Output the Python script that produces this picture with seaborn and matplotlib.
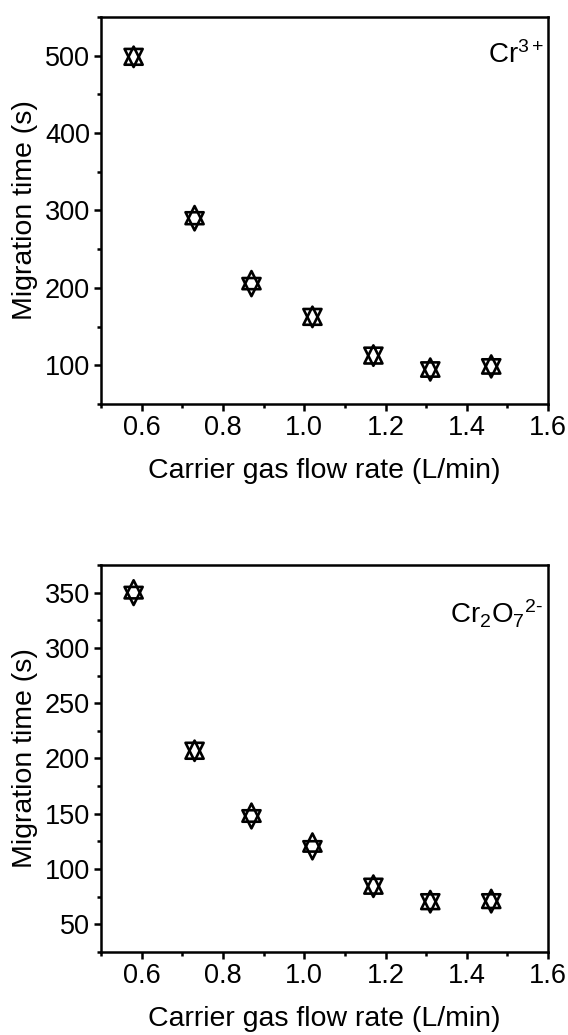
import numpy as np
import pandas as pd
import matplotlib
matplotlib.use("Agg")
import matplotlib.pyplot as plt
from matplotlib.ticker import MultipleLocator
import seaborn as sns

# ---- data ----
flow_rate = [0.58, 0.73, 0.87, 1.02, 1.17, 1.31, 1.46]
cr3_up = [500, 294, 210, 164, 114, 97, 101]
cr3_down = [497, 286, 201, 161, 111, 92, 96]
cr2o7_up = [353, 208, 151, 124, 86, 72, 73]
cr2o7_down = [347, 206, 145, 117, 83, 69, 69]
xticks = [0.6, 0.8, 1.0, 1.2, 1.4, 1.6]
top_yticks = [100, 200, 300, 400, 500]
bot_yticks = [50, 100, 150, 200, 250, 300, 350]
xlabel = "Carrier gas flow rate (L/min)"
ylabel = "Migration time (s)"

sns.set_theme(style="ticks")
plt.rcParams['font.family'] = ['Liberation Sans', 'DejaVu Sans']
plt.rcParams['mathtext.fontset'] = 'custom'
plt.rcParams['mathtext.rm'] = 'Liberation Sans'
plt.rcParams['mathtext.it'] = 'Liberation Sans'
plt.rcParams['mathtext.default'] = 'regular'

fig = plt.figure(figsize=(5.68, 10.35), dpi=100)
ax1 = fig.add_axes([0.178, 0.6097, 0.787, 0.3739])
ax2 = fig.add_axes([0.178, 0.0802, 0.787, 0.3739])

def draw(ax, up, down, ylim, yticks, yminor, label, label_y):
    df = pd.DataFrame({"x": flow_rate, "up": up, "down": down})
    sns.scatterplot(data=df, x="x", y="up", marker="^", s=170,
                    facecolors="none", edgecolor="black", linewidth=1.9, ax=ax, zorder=3)
    sns.scatterplot(data=df, x="x", y="down", marker="v", s=170,
                    facecolors="none", edgecolor="black", linewidth=1.9, ax=ax, zorder=3)
    ax.set_xlim(0.5, 1.6)
    ax.set_ylim(*ylim)
    ax.set_xticks(xticks)
    ax.set_xticklabels([f"{v:.1f}" for v in xticks])
    ax.set_yticks(yticks)
    ax.xaxis.set_minor_locator(MultipleLocator(0.1))
    ax.yaxis.set_minor_locator(MultipleLocator(yminor))
    for s in ax.spines.values():
        s.set_linewidth(1.8)
        s.set_color("black")
    ax.tick_params(which="major", direction="out", length=5, width=1.8,
                   labelsize=19.5, colors="black", pad=3)
    ax.tick_params(which="minor", direction="out", length=3, width=1.8, colors="black")
    ax.set_xlabel(xlabel, fontsize=20.5, labelpad=12, color="black")
    ax.set_ylabel(ylabel, fontsize=20.5, labelpad=5, color="black")
    ax.text(0.99, label_y, label, transform=ax.transAxes, ha="right", va="baseline",
            fontsize=20, color="black")

draw(ax1, cr3_up, cr3_down, (50, 550), top_yticks, 50, r"Cr$^{3+}$", 0.881)
draw(ax2, cr2o7_up, cr2o7_down, (25, 375), bot_yticks, 25,
     r"Cr$_2$O$_7{}^{\text{2-}}$", 0.85)

fig.savefig("out.png", dpi=100, facecolor="white")
